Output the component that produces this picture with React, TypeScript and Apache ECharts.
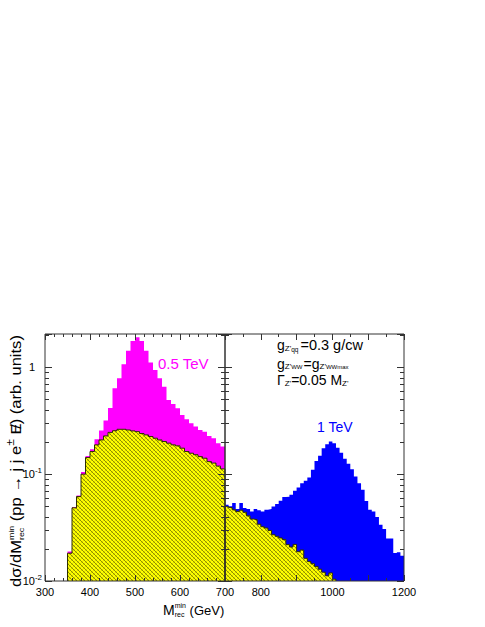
import React, { useEffect, useRef } from 'react';
import * as echarts from 'echarts';

const FONT = '"Liberation Sans", Arial, Helvetica, sans-serif';

// ---- data (bin contents, 10 GeV bins) ----
const BIN_WIDTH = 10;
const LEFT_START = 350;   // first bin edge of the 0.5 TeV histograms
const RIGHT_START = 700;  // first bin edge of the 1 TeV histograms

const MAGENTA_05TEV = [
  0.0189, 0.0492, 0.0631, 0.105, 0.148, 0.171, 0.212, 0.256, 0.317, 0.416,
  0.637, 0.789, 1.07, 1.43, 1.76, 1.91, 1.76, 1.43, 1.11, 0.944,
  0.789, 0.659, 0.495, 0.454, 0.414, 0.358, 0.327, 0.300, 0.279, 0.259,
  0.250, 0.228, 0.217, 0.195, 0.181,
];
const YELLOW_LEFT = [
  0.0182, 0.0484, 0.0617, 0.100, 0.143, 0.163, 0.188, 0.209, 0.228, 0.246,
  0.255, 0.263, 0.263, 0.259, 0.254, 0.250, 0.240, 0.233, 0.225, 0.217,
  0.209, 0.202, 0.195, 0.188, 0.184, 0.175, 0.163, 0.157, 0.152, 0.146,
  0.141, 0.131, 0.127, 0.119, 0.112,
];
const BLUE_1TEV = [
  0.0516, 0.050, 0.0536, 0.0471, 0.0536, 0.0481, 0.0471, 0.0447, 0.0471, 0.046,
  0.0447, 0.0464, 0.0471, 0.0498, 0.0525, 0.0563, 0.061, 0.0615, 0.064, 0.0698,
  0.075, 0.0824, 0.0866, 0.0929, 0.11, 0.133, 0.149, 0.175, 0.191, 0.202,
  0.195, 0.177, 0.159, 0.139, 0.125, 0.111, 0.095, 0.0824, 0.0713, 0.056,
  0.0464, 0.0447, 0.0397, 0.0336, 0.0306, 0.025, 0.025, 0.0183, 0.0186, 0.0172,
];
const YELLOW_RIGHT = [
  0.0498, 0.0487, 0.0464, 0.0446, 0.046, 0.044, 0.0407, 0.038, 0.0375, 0.034,
  0.0322, 0.0313, 0.0297, 0.0271, 0.0262, 0.0253, 0.0244, 0.0219, 0.0208, 0.022,
  0.0188, 0.0195, 0.0163, 0.0152, 0.0145, 0.0137, 0.0129, 0.0121, 0.0112, 0.0119,
  0.0104,
];

const X_LEFT_RANGE = [300, 700];
const X_RIGHT_RANGE = [700, 1200];
const X_RIGHT_LABELS = [800, 1000, 1200];
const Y_RANGE = [0.01, 2.05];
const Y_MINOR_TICKS = [
  0.02, 0.03, 0.04, 0.05, 0.06, 0.07, 0.08, 0.09,
  0.2, 0.3, 0.4, 0.5, 0.6, 0.7, 0.8, 0.9, 2,
];

// ---- helpers ----
function stepPoints(start: number, width: number, values: number[]) {
  const floor = Y_RANGE[0];
  const end = start + values.length * width;
  const pts: number[][] = [[start, floor]];
  values.forEach((v, i) => pts.push([start + i * width, v]));
  pts.push([end, values[values.length - 1]]);
  pts.push([end, floor]);
  return pts;
}

let measureCtx: CanvasRenderingContext2D | null = null;
function measure(text: string, size: number) {
  if (!measureCtx) measureCtx = document.createElement('canvas').getContext('2d');
  measureCtx!.font = `${size}px ${FONT}`;
  return measureCtx!.measureText(text).width;
}

type Run = { t: string; s: number; dy?: number; dx?: number; stack?: boolean };
function layoutRuns(runs: Run[], color: string) {
  const els: any[] = [];
  let x = 0;
  let pending = 0;
  for (const r of runs) {
    x += r.dx || 0;
    const w = measure(r.t, r.s);
    els.push({
      type: 'text',
      x,
      y: r.dy || 0,
      style: {
        text: r.t, fontSize: r.s, fontFamily: FONT, fill: color,
        align: 'left', verticalAlign: 'middle', textAlign: 'left', textVerticalAlign: 'middle',
      },
    });
    if (r.stack) pending = Math.max(pending, w);
    else { x += Math.max(pending, w); pending = 0; }
  }
  return { els, width: x };
}

function hatch() {
  const c = document.createElement('canvas');
  c.width = 4; c.height = 4;
  const g = c.getContext('2d')!;
  g.fillStyle = '#ffff00';
  g.fillRect(0, 0, 4, 4);
  g.fillStyle = '#8e8e00';
  for (let i = 0; i < 4; i++) g.fillRect(i, i, 1, 1);
  g.fillStyle = '#d8d800';
  for (let i = 0; i < 4; i++) g.fillRect(i, 3 - i, 1, 1);
  return { image: c.toDataURL(), repeat: 'repeat', imageWidth: 4, imageHeight: 4 };
}

function decadeLabel(v: number) {
  const l = Math.log10(v);
  const e = Math.round(l);
  if (Math.abs(l - e) > 1e-6) return '';
  if (e === 0) return '{b|1}{p| }';
  return `{b|10}{s|${e}}`;
}

const TICK = { show: true, inside: true, length: 7, lineStyle: { color: '#333', width: 1 } };

function xAxis(grid: number, range: number[], pos: 'top' | 'bottom', minorSplit: number, labels: boolean, labelFilter?: (v: number) => boolean) {
  return {
    type: 'value', gridIndex: grid, position: pos, min: range[0], max: range[1], interval: 100,
    z: 10,
    axisLine: { show: false },
    axisTick: { ...TICK, length: 6 },
    minorTick: { show: true, splitNumber: minorSplit, length: 3, lineStyle: { color: '#333', width: 1 } },
    splitLine: { show: false },
    minorSplitLine: { show: false },
    axisLabel: {
      show: labels, margin: 5, fontSize: 11, color: '#000', fontFamily: FONT,
      formatter: (v: number) => (labelFilter && !labelFilter(v) ? '' : String(v)),
    },
  };
}

function yAxis(grid: number, pos: 'left' | 'right', labels: boolean) {
  return {
    type: 'log', logBase: 10, gridIndex: grid, position: pos, min: Y_RANGE[0], max: Y_RANGE[1],
    z: 10,
    axisLine: { show: false },
    axisTick: TICK,
    splitLine: { show: false },
    axisLabel: {
      show: labels, margin: 3, color: '#000', fontFamily: FONT, fontSize: 11,
      formatter: decadeLabel,
      rich: {
        b: { fontSize: 11, fontFamily: FONT, color: '#000' },
        s: { fontSize: 8, fontFamily: FONT, color: '#000', padding: [0, 0, 7, 0] },
        p: { width: 7, fontSize: 8 },
      },
    },
  };
}

function histo(xi: number, start: number, values: number[], fill: any, stroke: string | null, z: number) {
  return {
    type: 'line', xAxisIndex: xi, yAxisIndex: xi, step: 'end', symbol: 'none', showSymbol: false,
    silent: true, z, clip: true, animation: false,
    data: stepPoints(start, BIN_WIDTH, values),
    lineStyle: stroke ? { color: stroke, width: 1 } : { width: 0, opacity: 0 },
    itemStyle: { color: stroke || '#000' },
    areaStyle: { color: fill, opacity: 1, origin: 'start' },
    emphasis: { disabled: true },
  };
}

function minorTicks(idx: number, xAt: number) {
  return {
    type: 'custom', xAxisIndex: idx, yAxisIndex: idx, silent: true, z: 11,
    data: Y_MINOR_TICKS.map((v) => [xAt, v]),
    renderItem: (params: any, api: any) => {
      const p = api.coord([api.value(0), api.value(1)]);
      const cs = params.coordSys;
      const y = Math.round(p[1]) + 0.5;
      const st = { stroke: '#333', lineWidth: 1 };
      return {
        type: 'group',
        children: [
          { type: 'line', shape: { x1: cs.x, y1: y, x2: cs.x + 4, y2: y }, style: st },
          { type: 'line', shape: { x1: cs.x + cs.width - 4, y1: y, x2: cs.x + cs.width, y2: y }, style: st },
        ],
      };
    },
  };
}

function buildOption() {
  const pattern = hatch();

  const yTitleRuns: Run[] = [
    { t: 'dσ/dM', s: 15 },
    { t: 'min', s: 8, dy: -5, stack: true },
    { t: 'rec', s: 8, dy: 5 },
    { t: ' (pp ', s: 15 },
    { t: '→', s: 15 },
    { t: ' j j e', s: 15 },
    { t: '±', s: 11, dy: -6 },
    { t: ' E', s: 15 },
    { t: '/', s: 15, dx: -5 },
    { t: ')', s: 15 },
    { t: ' (arb. units)', s: 15 },
  ];
  const yTitle = layoutRuns(yTitleRuns, '#000');
  const yScale = 252 / yTitle.width;

  const xTitle = layoutRuns([
    { t: 'M', s: 14 },
    { t: 'min', s: 7, dy: -5, stack: true },
    { t: 'rec', s: 7, dy: 4 },
    { t: ' (GeV)', s: 13 },
  ], '#000');

  const line1 = layoutRuns([
    { t: 'g', s: 14 }, { t: "Z'", s: 8, dy: 3 }, { t: 'qq', s: 6.5, dy: 4 },
    { t: '=0.3 g/cw', s: 14.5, dx: 2 },
  ], '#000');
  const line2 = layoutRuns([
    { t: 'g', s: 14 }, { t: "Z'", s: 8, dy: 2 }, { t: 'WW', s: 6, dy: 3 },
    { t: '=', s: 14, dx: 1 }, { t: 'g', s: 14 }, { t: "Z'", s: 8, dy: 2 }, { t: 'WWmax', s: 6, dy: 3 },
  ], '#000');
  const line3 = layoutRuns([
    { t: 'Γ', s: 14 }, { t: "Z'", s: 8, dy: 3 }, { t: '=0.05 M', s: 14 }, { t: "Z'", s: 8, dy: 3 },
  ], '#000');

  return {
    animation: false,
    backgroundColor: '#fff',
    grid: [
      { left: 45, top: 334, width: 180, height: 247, show: true, borderColor: '#333', borderWidth: 1, backgroundColor: 'transparent', z: 10 },
      { left: 225, top: 334, width: 179, height: 247, show: true, borderColor: '#333', borderWidth: 1, backgroundColor: 'transparent', z: 10 },
    ],
    xAxis: [
      xAxis(0, X_LEFT_RANGE, 'bottom', 5, true),
      xAxis(1, X_RIGHT_RANGE, 'bottom', 2, true, (v) => X_RIGHT_LABELS.includes(v)),
      xAxis(0, X_LEFT_RANGE, 'top', 5, false),
      xAxis(1, X_RIGHT_RANGE, 'top', 2, false),
    ],
    yAxis: [
      yAxis(0, 'left', true),
      yAxis(1, 'left', false),
      yAxis(0, 'right', false),
      yAxis(1, 'right', false),
    ],
    series: [
      histo(0, LEFT_START, MAGENTA_05TEV, '#ff00ff', null, 2),
      histo(0, LEFT_START, YELLOW_LEFT, pattern, '#2e2e00', 3),
      histo(1, RIGHT_START, BLUE_1TEV, '#0000ff', null, 2),
      histo(1, RIGHT_START, YELLOW_RIGHT, pattern, '#2e2e00', 3),
      minorTicks(0, X_LEFT_RANGE[0]),
      minorTicks(1, X_RIGHT_RANGE[0]),
    ],
    graphic: [
      { type: 'group', x: 16, y: 587, rotation: Math.PI / 2, scaleX: yScale, children: yTitle.els, z: 20 },
      { type: 'group', x: 163, y: 610, children: xTitle.els, z: 20 },
      { type: 'group', x: 277, y: 345, children: line1.els, z: 20 },
      { type: 'group', x: 277, y: 364, children: line2.els, z: 20 },
      { type: 'group', x: 277, y: 380, children: line3.els, z: 20 },
      {
        type: 'text', x: 158, y: 363, z: 20,
        style: { text: '0.5 TeV', fontSize: 15, fontFamily: FONT, fill: '#ff00ff', align: 'left', verticalAlign: 'middle', textAlign: 'left', textVerticalAlign: 'middle' },
      },
      {
        type: 'text', x: 317, y: 427, z: 20,
        style: { text: '1 TeV', fontSize: 14, fontFamily: FONT, fill: '#0000ff', align: 'left', verticalAlign: 'middle', textAlign: 'left', textVerticalAlign: 'middle' },
      },
    ],
  };
}

export default function App() {
  const ref = useRef<HTMLDivElement>(null);
  useEffect(() => {
    const chart = echarts.init(ref.current!, null, { renderer: 'svg' });
    chart.setOption(buildOption() as any);
    return () => chart.dispose();
  }, []);
  return <div ref={ref} style={{ position: 'fixed', left: 0, top: 0, width: 485, height: 627 }} />;
}
